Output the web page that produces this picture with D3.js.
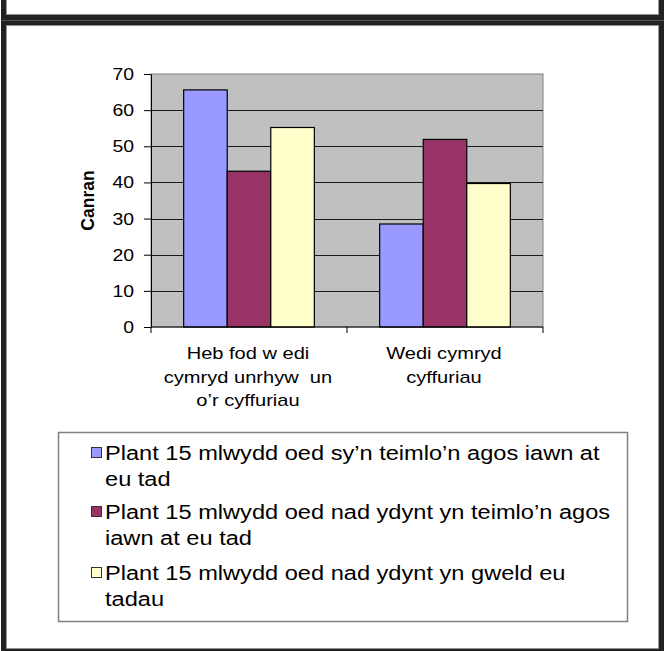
<!DOCTYPE html>
<html>
<head>
<meta charset="utf-8">
<script src="https://cdn.jsdelivr.net/npm/d3@7"></script>
<style>
  body { margin: 0; background: #fff; }
  text { font-family: "Liberation Sans", Arial, sans-serif; fill: #000; white-space: pre; }
</style>
</head>
<body>
<div id="chart"></div>
<script>
// data
const categories = ["Heb fod w edi\ncymryd unrhyw  un\no’r cyffuriau", "Wedi cymryd\ncyffuriau"];
const seriesNames = [
  "Plant 15 mlwydd oed sy’n teimlo’n agos iawn at\neu tad",
  "Plant 15 mlwydd oed nad ydynt yn teimlo’n agos\niawn at eu tad",
  "Plant 15 mlwydd oed nad ydynt yn gweld eu\ntadau"
];
const closeToDad = [65.6, 28.5];
const notCloseToDad = [43.1, 51.9];
const notSeeDad = [55.2, 39.7];
const yTicks = [0, 10, 20, 30, 40, 50, 60, 70];
const yTitle = "Canran";

const colors = ["#9999FF", "#993366", "#FFFFCC"];
const seriesValues = [closeToDad, notCloseToDad, notSeeDad];

let width = 667;
let height = 651;

// text in the original is squashed wider than the font
function stretch(sel, k) {
    sel.each(function() {
        let w = this.getComputedTextLength();
        this.setAttribute("textLength", w * k);
        this.setAttribute("lengthAdjust", "spacingAndGlyphs");
    });
}

let svg = d3.select("#chart")
    .append("svg")
    .attr("width", width)
    .attr("height", height);

let plot = {left: 151, right: 543, top: 74, bottom: 327};

let x0 = d3.scaleBand()
    .domain(categories)
    .range([plot.left, plot.right])
    .paddingInner(0).paddingOuter(0);

let x1 = d3.scaleBand()
    .domain(d3.range(seriesNames.length))
    .range([0, x0.bandwidth()])
    .paddingInner(0).paddingOuter(0.75);

let y = d3.scaleLinear()
    .domain([0, 70])
    .range([plot.bottom, plot.top]);

// plot background
svg.append("rect")
    .attr("x", plot.left).attr("y", plot.top)
    .attr("width", plot.right - plot.left).attr("height", plot.bottom - plot.top)
    .attr("fill", "#C0C0C0")
    .attr("stroke", "#808080")
    .attr("stroke-width", 1);

// gridlines
svg.append("g")
    .selectAll("line")
    .data(yTicks.filter(d => d > 0 && d < 70))
    .enter()
    .append("line")
    .attr("x1", plot.left).attr("x2", plot.right)
    .attr("y1", d => Math.round(y(d)) + 0.5)
    .attr("y2", d => Math.round(y(d)) + 0.5)
    .attr("stroke", "#1a1a1a")
    .attr("stroke-width", 1);

// bars
let groups = svg.append("g")
    .selectAll("g")
    .data(categories)
    .enter()
    .append("g")
    .attr("transform", d => `translate(${x0(d)},0)`);

groups.selectAll("rect")
    .data((c, ci) => seriesValues.map((vals, si) => ({si: si, v: vals[ci]})))
    .enter()
    .append("rect")
    .attr("x", d => x1(d.si))
    .attr("y", d => y(d.v))
    .attr("width", x1.bandwidth())
    .attr("height", d => y(0) - y(d.v))
    .attr("fill", d => colors[d.si])
    .attr("stroke", "#000")
    .attr("stroke-width", 1.2);

// y axis
let yAxis = svg.append("g")
    .attr("transform", `translate(${plot.left},0)`)
    .call(d3.axisLeft(y).tickValues(yTicks).tickSize(7).tickPadding(10).tickSizeOuter(0));
yAxis.select(".domain").attr("stroke", "#000");
yAxis.selectAll(".tick line").attr("stroke", "#000");
yAxis.selectAll("text")
    .attr("font-size", 17)
    .attr("font-family", "Liberation Sans, Arial, sans-serif")
    .attr("fill", "#000")
    .call(stretch, 1.14);

// x axis
svg.append("line")
    .attr("x1", plot.left).attr("x2", plot.right)
    .attr("y1", plot.bottom).attr("y2", plot.bottom)
    .attr("stroke", "#000");
svg.append("g")
    .selectAll("line")
    .data(categories.concat([null]))
    .enter()
    .append("line")
    .attr("x1", d => d === null ? plot.right : x0(d))
    .attr("x2", d => d === null ? plot.right : x0(d))
    .attr("y1", plot.bottom).attr("y2", plot.bottom + 6)
    .attr("stroke", "#000");

let xLabels = svg.append("g")
    .selectAll("text")
    .data(categories)
    .enter()
    .append("text")
    .attr("text-anchor", "middle")
    .attr("font-size", 17);
xLabels.each(function(d) {
    let t = d3.select(this);
    let cx = x0(d) + x0.bandwidth() / 2 - 1;
    d.split("\n").forEach((line, i) => {
        t.append("tspan")
            .attr("x", cx)
            .attr("y", 359 + i * 23.5)
            .text(line);
    });
});
xLabels.selectAll("tspan").call(stretch, 1.18);

// y title
svg.append("text")
    .attr("transform", `translate(94,${(plot.top + plot.bottom) / 2}) rotate(-90)`)
    .attr("text-anchor", "middle")
    .attr("font-size", 17.5)
    .attr("font-weight", "bold")
    .text(yTitle);

// legend
let legend = svg.append("g");
legend.append("rect")
    .attr("x", 58.5).attr("y", 432.5)
    .attr("width", 569).attr("height", 189)
    .attr("fill", "#fff")
    .attr("stroke", "#808080")
    .attr("stroke-width", 1.5);

let itemTop = [453, 512, 573];
let items = legend.selectAll("g.item")
    .data(seriesNames)
    .enter()
    .append("g")
    .attr("class", "item");
items.append("rect")
    .attr("x", 91.5)
    .attr("y", (d, i) => itemTop[i] - 5.5)
    .attr("width", 10).attr("height", 10)
    .attr("fill", (d, i) => colors[i])
    .attr("stroke", "#333")
    .attr("stroke-width", 1);
items.each(function(d, i) {
    let t = d3.select(this).append("text").attr("font-size", 20);
    d.split("\n").forEach((line, j) => {
        t.append("tspan")
            .attr("x", 105)
            .attr("y", itemTop[i] + 7 + j * 26)
            .text(line);
    });
});
items.selectAll("tspan").call(stretch, 1.18);

// outer frame
let frame = svg.append("g").attr("fill", "#222");
frame.append("rect").attr("x", 1).attr("y", 0).attr("width", 5).attr("height", height);
frame.append("rect").attr("x", 659).attr("y", 0).attr("width", 5).attr("height", height);
frame.append("rect").attr("x", 1).attr("y", 14.5).attr("width", 663).attr("height", 11);
frame.append("rect").attr("x", 1).attr("y", 648.5).attr("width", 663).attr("height", 3);
frame.append("line").attr("x1", 1).attr("x2", 664).attr("y1", 20.5).attr("y2", 20.5)
    .attr("stroke", "#555").attr("stroke-width", 1);
frame.append("line").attr("x1", 6.5).attr("x2", 6.5).attr("y1", 26).attr("y2", 648)
    .attr("stroke", "#999").attr("stroke-width", 1);
frame.append("line").attr("x1", 6.5).attr("x2", 6.5).attr("y1", 0).attr("y2", 14)
    .attr("stroke", "#999").attr("stroke-width", 1);
frame.append("line").attr("x1", 658.5).attr("x2", 658.5).attr("y1", 0).attr("y2", 14)
    .attr("stroke", "#999").attr("stroke-width", 1);
frame.append("line").attr("x1", 658.5).attr("x2", 658.5).attr("y1", 26).attr("y2", 648)
    .attr("stroke", "#999").attr("stroke-width", 1);
</script>
</body>
</html>
